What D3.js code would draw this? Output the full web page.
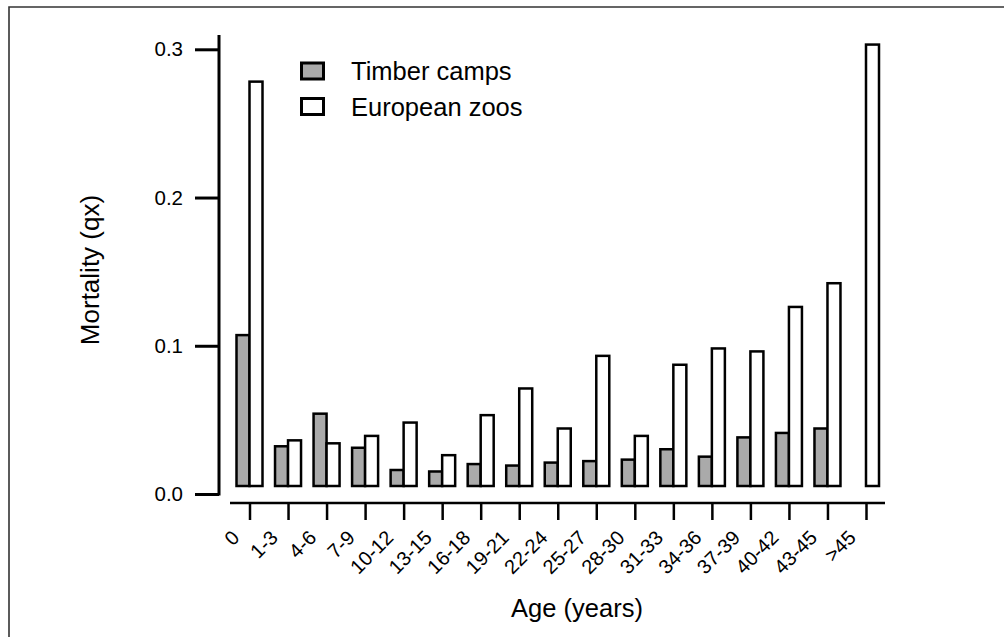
<!DOCTYPE html>
<html>
<head>
<meta charset="utf-8">
<script src="https://cdn.jsdelivr.net/npm/d3@7"></script>
<style>
  body { margin: 0; background: #fff; }
  svg text { font-family: "Liberation Sans", Arial, sans-serif; fill: #000; }
</style>
</head>
<body>
<svg id="chart" width="1004" height="637"></svg>
<script>
var ages = ["0", "1-3", "4-6", "7-9", "10-12", "13-15", "16-18", "19-21", "22-24",
            "25-27", "28-30", "31-33", "34-36", "37-39", "40-42", "43-45", ">45"];
var timberCamps = [0.108, 0.033, 0.055, 0.032, 0.017, 0.016, 0.021, 0.020, 0.022,
                   0.023, 0.024, 0.031, 0.026, 0.039, 0.042, 0.045, null];
var europeanZoos = [0.279, 0.037, 0.035, 0.040, 0.049, 0.027, 0.054, 0.072, 0.045,
                    0.094, 0.040, 0.088, 0.099, 0.097, 0.127, 0.143, 0.304];
var yTicks = [0.0, 0.1, 0.2, 0.3];

(function() {
    var svg = d3.select("#chart");

    // frame (top + left edges only visible)
    svg.append("path")
        .attr("d", "M9,640 V7 H1010")
        .attr("fill", "none")
        .attr("stroke", "#333")
        .attr("stroke-width", 1.6);

    var y = d3.scaleLinear().domain([0, 0.3]).range([494, 49.3]);
    var x = d3.scalePoint().domain(ages).range([249.5, 866]);
    var bw = 13;        // width of one bar
    var baseLift = 8;   // bars sit slightly above the zero line

    // y axis
    var yAxis = svg.append("g")
        .attr("transform", "translate(219,0)")
        .call(d3.axisLeft(y).tickValues(yTicks).tickFormat(d3.format(".1f")).tickSize(24).tickPadding(12));
    yAxis.select(".domain").remove();
    yAxis.append("line")
        .attr("x1", 0).attr("x2", 0)
        .attr("y1", 35).attr("y2", y(0) + 1.5)
        .attr("stroke", "#000").attr("stroke-width", 3);
    yAxis.selectAll(".tick line").attr("stroke", "#000").attr("stroke-width", 3);
    yAxis.selectAll(".tick text")
        .style("font-size", "20.5px")
        .attr("font-family", null);

    // x axis
    var xAxis = svg.append("g")
        .attr("transform", "translate(0,503)")
        .call(d3.axisBottom(x).tickSize(17).tickFormat(""));
    xAxis.select(".domain").remove();
    xAxis.append("line")
        .attr("x1", 230).attr("x2", 885)
        .attr("stroke", "#000").attr("stroke-width", 2.5);
    xAxis.selectAll(".tick line").attr("stroke", "#000").attr("stroke-width", 2.5);

    svg.append("g").selectAll("text")
        .data(ages)
        .join("text")
            .attr("transform", d => `translate(${x(d) - 9},539) rotate(-45)`)
            .attr("text-anchor", "end")
            .style("font-size", "20px")
            .text(d => d);

    // bars
    var base = y(0) - baseLift;
    var bars = svg.append("g");
    bars.selectAll("rect.timber")
        .data(ages.map((a, i) => ({ age: a, v: timberCamps[i] })).filter(d => d.v != null))
        .join("rect")
            .attr("class", "timber")
            .attr("x", d => x(d.age) - bw)
            .attr("y", d => y(d.v) + 1.2)
            .attr("width", bw)
            .attr("height", d => base - y(d.v) - 1.2)
            .attr("fill", "#aaaaaa")
            .attr("stroke", "#000")
            .attr("stroke-width", 2.5);
    bars.selectAll("rect.zoo")
        .data(ages.map((a, i) => ({ age: a, v: europeanZoos[i] })))
        .join("rect")
            .attr("class", "zoo")
            .attr("x", d => x(d.age))
            .attr("y", d => y(d.v) + 1.2)
            .attr("width", bw)
            .attr("height", d => base - y(d.v) - 1.2)
            .attr("fill", "#fff")
            .attr("stroke", "#000")
            .attr("stroke-width", 2.5);

    // legend
    var legend = svg.append("g");
    [["Timber camps", "#aaaaaa"], ["European zoos", "#fff"]].forEach(function(item, i) {
        legend.append("rect")
            .attr("x", 301.5).attr("y", 63 + i * 35.5)
            .attr("width", 22).attr("height", 16)
            .attr("fill", item[1])
            .attr("stroke", "#000").attr("stroke-width", 3);
        legend.append("text")
            .attr("x", 351).attr("y", 80 + i * 36)
            .style("font-size", "25.5px")
            .text(item[0]);
    });

    // axis titles
    svg.append("text")
        .attr("x", 577).attr("y", 617)
        .attr("text-anchor", "middle")
        .style("font-size", "25.5px")
        .text("Age (years)");
    svg.append("text")
        .attr("transform", "translate(99,270) rotate(-90)")
        .attr("text-anchor", "middle")
        .style("font-size", "26px")
        .text("Mortality (qx)");
})();
</script>
</body>
</html>
